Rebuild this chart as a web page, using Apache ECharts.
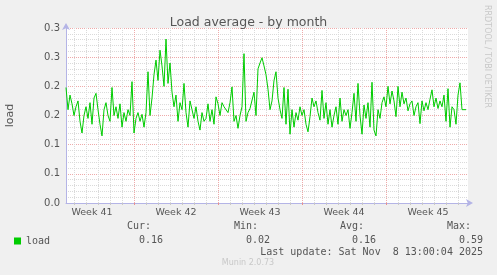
<!DOCTYPE html>
<html>
<head>
<meta charset="utf-8">
<script src="https://cdn.jsdelivr.net/npm/echarts@6/dist/echarts.min.js"></script>
<style>
html,body{margin:0;padding:0;background:#f0f0f0;}
#chart{width:497px;height:275px;}
</style>
</head>
<body>
<div id="chart"></div>
<script>
// ---- data ----
const titleText = 'Load average - by month';
const yAxisName = 'load';
const seriesName = 'load';
// one sample every 4 hours (every other 2-hour step)
const loadValues = [
  0.198,0.16,0.185,0.17,0.15,0.165,0.175,0.14,0.12,0.15,
  0.165,0.145,0.172,0.135,0.18,0.188,0.16,0.135,0.115,0.16,
  0.172,0.15,0.14,0.198,0.15,0.165,0.145,0.17,0.13,0.155,
  0.14,0.16,0.15,0.208,0.12,0.145,0.155,0.14,0.152,0.13,
  0.155,0.225,0.15,0.18,0.22,0.245,0.21,0.262,0.235,0.2,
  0.281,0.205,0.24,0.19,0.165,0.185,0.14,0.172,0.16,0.205,
  0.155,0.13,0.175,0.16,0.145,0.165,0.14,0.125,0.155,0.14,
  0.145,0.17,0.14,0.16,0.135,0.182,0.17,0.15,0.172,0.165,
  0.168,0.155,0.172,0.199,0.14,0.15,0.128,0.15,0.165,0.256,
  0.14,0.155,0.162,0.163,0.19,0.15,0.23,0.24,0.249,0.235,
  0.22,0.195,0.16,0.175,0.21,0.225,0.18,0.16,0.145,0.198,
  0.135,0.195,0.118,0.16,0.13,0.155,0.142,0.165,0.15,0.16,
  0.135,0.122,0.148,0.18,0.165,0.175,0.155,0.142,0.193,0.145,
  0.172,0.135,0.16,0.13,0.15,0.165,0.135,0.18,0.14,0.16,
  0.15,0.16,0.128,0.155,0.188,0.14,0.205,0.15,0.118,0.168,
  0.145,0.172,0.13,0.207,0.125,0.115,0.16,0.145,0.172,0.182,
  0.165,0.2,0.17,0.192,0.175,0.148,0.2,0.165,0.19,0.17,
  0.18,0.158,0.17,0.175,0.15,0.165,0.172,0.136,0.175,0.158,
  0.172,0.16,0.178,0.194,0.165,0.18,0.162,0.175,0.165,0.185,
  0.14,0.196,0.13,0.165,0.16,0.135,0.185,0.206,0.16,0.16,
  0.16
];
const weekLabels = ['Week 41','Week 42','Week 43','Week 44','Week 45'];
const yTickLabels = ['0.0','0.1','0.1','0.2','0.2','0.3','0.3'];
const statHeaders = ['Cur:','Min:','Avg:','Max:'];
const statValues = ['0.16','0.02','0.16','0.59'];
const lastUpdate = 'Last update: Sat Nov  8 13:00:04 2025';
const footer = 'Munin 2.0.73';
const sideText = 'RRDTOOL / TOBI OETIKER';

// ---- axis steps: 2-hour slots, 12 per day, 84 per week ----
const nSlots = 403;
const slots = Array.from({length: nSlots}, (_, i) => i);
const firstDay = 8, firstWeek = 68, weekMid = 26;
const isMajor = i => i >= firstWeek && (i - firstWeek) % 84 === 0;
const isMinor = i => i >= firstDay && (i - firstDay) % 12 === 0 && !isMajor(i);
const isWeekMid = i => i >= weekMid && (i - weekMid) % 84 === 0;

const seriesData = loadValues.map((v, k) => [2 * k, v]);

const txt = '#555';
const mono = 'DejaVu Sans Mono';
const axisBlue = '#b4b4e6';

const graphics = [];
const valueRights = [163, 270, 376, 483];
statHeaders.forEach((h, i) => {
  graphics.push({type:'text', x: valueRights[i] - 12, y: 226,
    style:{text:h, fill:txt, font:'10px ' + mono, textAlign:'right', textVerticalAlign:'middle'}});
  graphics.push({type:'text', x: valueRights[i], y: 240,
    style:{text:statValues[i], fill:txt, font:'10px ' + mono, textAlign:'right', textVerticalAlign:'middle'}});
});
graphics.push({type:'text', x: 483, y: 252,
  style:{text:lastUpdate, fill:txt, font:'10px ' + mono, textAlign:'right', textVerticalAlign:'middle'}});
graphics.push({type:'text', x: 248, y: 263,
  style:{text:footer, fill:'#c8c8c8', font:'8px DejaVu Sans', textAlign:'center', textVerticalAlign:'middle'}});
graphics.push({type:'text', x: 487, y: 5, rotation: -Math.PI / 2,
  style:{text:sideText, fill:'#c8c8c8', font:'8px DejaVu Sans', textAlign:'left', textVerticalAlign:'middle'}});

const chart = echarts.init(document.getElementById('chart'), null, {renderer:'canvas'});
chart.setOption({
  backgroundColor: '#f0f0f0',
  animation: false,
  title: {
    text: titleText, left: 'center', top: 11,
    textStyle: {fontFamily:'DejaVu Sans', fontSize:12.5, fontWeight:'normal', color:txt}
  },
  legend: {
    left: 14, top: 236, padding: 0, itemWidth: 7, itemHeight: 7, icon: 'rect',
    data: [seriesName],
    textStyle: {fontFamily: mono, fontSize: 10, color: txt}
  },
  grid: {left: 66, top: 28, width: 402, height: 175, show: true,
         containLabel: false, outerBoundsMode: 'none',
         backgroundColor: '#ffffff', borderWidth: 0},
  xAxis: [
    {
      type: 'category', data: slots, boundaryGap: false, position: 'bottom',
      axisLine: {show: true, lineStyle: {color: axisBlue, width: 1},
                 symbol: ['none', 'arrow'], symbolSize: [6, 7], symbolOffset: [0, 5]},
      axisTick: {show: true, interval: isMinor, length: 2, lineStyle: {color: '#c8c8c8'}},
      splitLine: {show: true, interval: isMinor, lineStyle: {color: '#dadada', type: [1, 1]}},
      axisLabel: {show: true, interval: isWeekMid, margin: 5,
        formatter: (v, i) => weekLabels[(i - weekMid) / 84],
        fontFamily: 'DejaVu Sans', fontSize: 9.5, color: txt}
    },
    {
      type: 'category', data: slots, boundaryGap: false, position: 'bottom',
      axisLine: {show: false},
      axisTick: {show: true, interval: isMajor, length: 2, lineStyle: {color: '#e89090'}},
      splitLine: {show: true, interval: isMajor, lineStyle: {color: '#eeaaaa', type: [1, 1]}},
      axisLabel: {show: false}
    }
  ],
  yAxis: {
    type: 'value', min: 0, max: 0.3, interval: 0.05,
    name: yAxisName, nameLocation: 'middle', nameGap: 50,
    nameTextStyle: {fontFamily: 'DejaVu Sans', fontSize: 11, color: txt},
    axisLine: {show: true, lineStyle: {color: axisBlue, width: 1},
               symbol: ['none', 'arrow'], symbolSize: [6, 7], symbolOffset: [0, 5]},
    axisTick: {show: false},
    axisLabel: {margin: 6, fontFamily: 'DejaVu Sans', fontSize: 10, color: txt,
      formatter: v => yTickLabels[Math.round(v / 0.05)]},
    splitLine: {show: true, lineStyle: {color: '#eeaaaa', type: [1, 1]}},
    minorTick: {show: false, splitNumber: 5},
    minorSplitLine: {show: true, lineStyle: {color: '#dadada', type: [1, 1]}}
  },
  series: [{
    name: seriesName, type: 'line', xAxisIndex: 0, data: seriesData,
    showSymbol: false, symbol: 'none',
    lineStyle: {color: '#00cc00', width: 1}, itemStyle: {color: '#00cc00'}
  }],
  graphic: graphics
});
</script>
</body>
</html>
